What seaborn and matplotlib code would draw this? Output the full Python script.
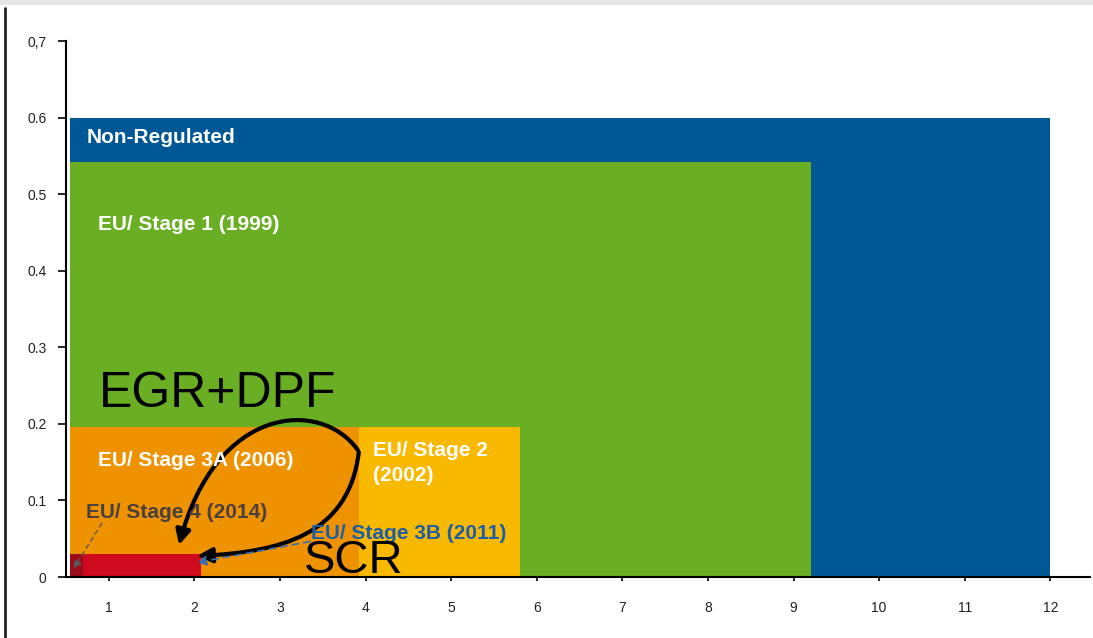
import numpy as np
import pandas as pd
import seaborn as sns
import matplotlib
matplotlib.use("Agg")
import matplotlib.pyplot as plt
from matplotlib.patches import FancyArrowPatch
from matplotlib.path import Path
from matplotlib.lines import Line2D

# ---- data ----
stages = ["Non-Regulated", "EU/ Stage 1 (1999)", "EU/ Stage 2\n(2002)",
          "EU/ Stage 3A (2006)", "EU/ Stage 3B (2011)", "EU/ Stage 4 (2014)"]
nox_limit = [12.0, 9.2, 5.8, 3.92, 2.08, 0.70]     # right edge on x axis
pm_limit = [0.60, 0.542, 0.196, 0.196, 0.030, 0.030]  # height on y axis
colors = ["#005796", "#6aaf23", "#f9b900", "#ef9200", "#cf0a1f", "#9c0d1b"]
x_start = 0.55

xticks = list(range(1, 13))
yticks = [0, 0.1, 0.2, 0.3, 0.4, 0.5, 0.6, 0.7]
ytick_labels = ["0", "0.1", "0.2", "0.3", "0.4", "0.5", "0.6", "0,7"]

df = pd.DataFrame({"stage": stages, "nox": nox_limit, "pm": pm_limit, "color": colors})

sns.set_theme(style="ticks")
plt.rcParams["font.family"] = ["Liberation Sans", "DejaVu Sans"]

fig = plt.figure(figsize=(10.93, 6.38), dpi=100)
ax = fig.add_axes([0.0604, 0.0956, 0.9366, 0.8401])

for _, r in df.iterrows():
    ax.bar(x_start, r["pm"], width=r["nox"] - x_start, align="edge",
           color=r["color"], edgecolor="none", linewidth=0)

ax.set_xlim(0.5, 12.46)
ax.set_ylim(0, 0.7)
ax.set_xticks(xticks)
ax.set_xticklabels([str(t) for t in xticks], fontsize=10, color="#222222")
ax.set_yticks(yticks)
ax.set_yticklabels(ytick_labels, fontsize=10, color="#222222")
ax.tick_params(axis="x", length=3, width=1.2, pad=14, color="black")
ax.tick_params(axis="y", length=6, width=1.2, pad=8, color="black")
sns.despine(ax=ax)
for s in ["left", "bottom"]:
    ax.spines[s].set_color("black")
    ax.spines[s].set_linewidth(1.5)

# px -> data helpers (only for annotation placement)
def X(px):
    return (px - 22) / 85.7

def Y(py):
    return (577 - py) / 766.0

white = dict(color="white", fontweight="bold", fontsize=15, va="center", ha="left")
ax.text(X(85), Y(137), stages[0], **white)
ax.text(X(97), Y(224), stages[1], **white)
ax.text(X(97), Y(460), stages[3], **white)
ax.text(X(372), Y(463), stages[2], linespacing=1.45, **white)
ax.text(X(85), Y(512), stages[5], color="#4a4040", fontweight="bold",
        fontsize=15, va="center", ha="left")
ax.text(X(310), Y(533), stages[4], color="#1d5ea8", fontweight="bold",
        fontsize=15, va="center", ha="left")

ax.text(X(98), Y(394), "EGR+DPF", fontsize=36, color="black", va="center", ha="left")
ax.text(X(303), Y(561), "SCR", fontsize=34, color="black", va="center", ha="left")

# curved arrows
def curve(pts):
    verts = [(X(a), Y(b)) for a, b in pts]
    return Path(verts, [Path.MOVETO, Path.CURVE4, Path.CURVE4, Path.CURVE4])

a1 = FancyArrowPatch(path=curve([(357, 450), (320, 398), (215, 405), (178, 545)]),
                     arrowstyle="-|>", mutation_scale=22, lw=3, color="black")
a2 = FancyArrowPatch(path=curve([(358, 452), (348, 535), (280, 552), (196, 556)]),
                     arrowstyle="-|>", mutation_scale=22, lw=3, color="black")
ax.add_patch(a1)
ax.add_patch(a2)

ax.annotate("", xy=(X(193), Y(563)), xytext=(X(312), Y(541)),
            arrowprops=dict(arrowstyle="-|>", color="#3a6fb0", lw=1.2,
                            linestyle=(0, (4, 3)), mutation_scale=14))
ax.annotate("", xy=(X(71), Y(571)), xytext=(X(102), Y(521)),
            arrowprops=dict(arrowstyle="-|>", color="#5a5a5a", lw=1.0,
                            linestyle=(0, (3, 3)), mutation_scale=12))

# frame decorations of the original image
fig.add_artist(plt.Rectangle((0, 1 - 5 / 638), 1, 5 / 638, transform=fig.transFigure,
                             color="#e6e6e6", lw=0))
fig.add_artist(Line2D([5 / 1093, 5 / 1093], [0, 1 - 8 / 638], transform=fig.transFigure,
                      color="#222222", lw=2))

fig.savefig("out.png", dpi=100)
